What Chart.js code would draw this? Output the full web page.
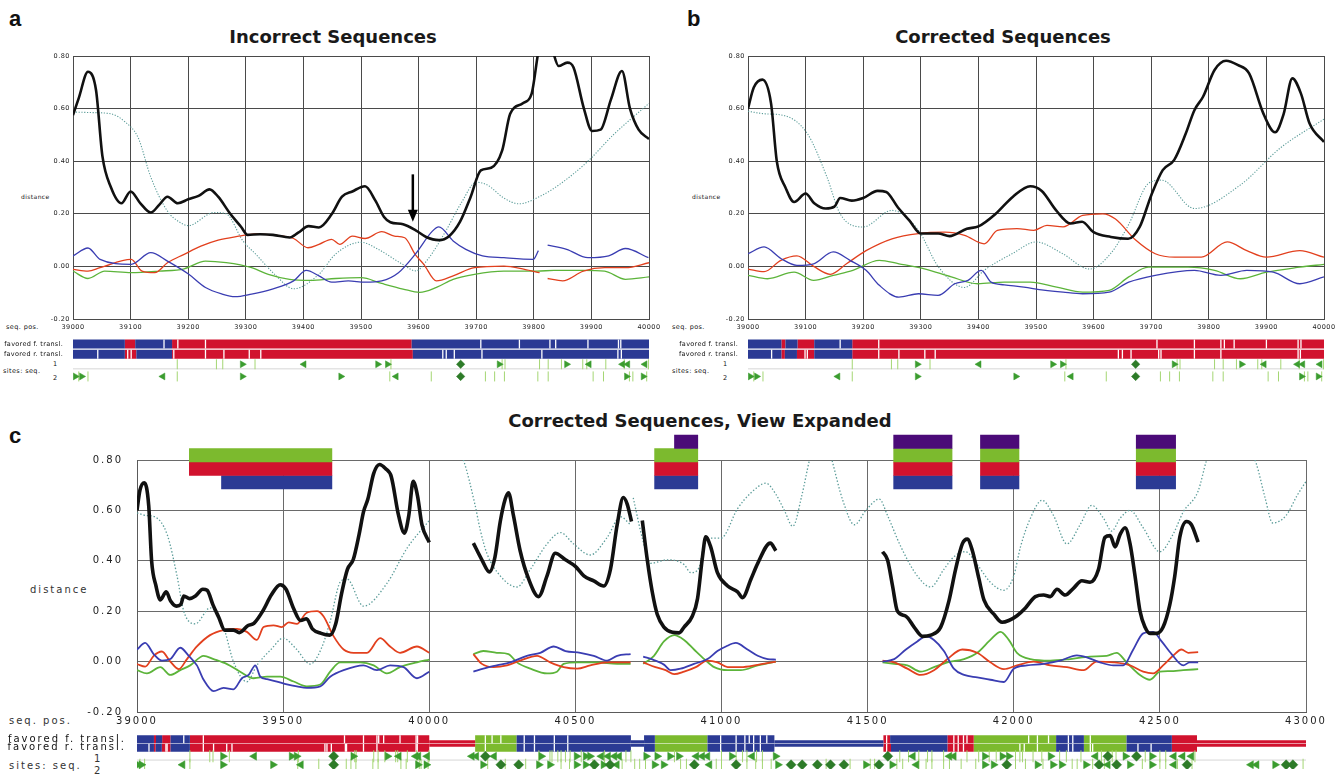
<!DOCTYPE html>
<html><head><meta charset="utf-8">
<script src="https://cdn.jsdelivr.net/npm/chart.js@4.4.1/dist/chart.umd.min.js"></script>
<style>
html,body{margin:0;padding:0;background:#fff;}
body{width:1339px;height:778px;position:relative;overflow:hidden;font-family:"DejaVu Sans",sans-serif;}
canvas{position:absolute;display:block;}
.tx{position:absolute;white-space:nowrap;line-height:1;color:#222;font-family:"DejaVu Sans",sans-serif;}
.let{font-family:"Liberation Sans",Arial,sans-serif;font-weight:bold;font-size:22px;color:#111;}
.ttl{font-weight:bold;font-size:18px;color:#1a1a1a;text-align:center;width:500px;}
.s6{font-size:6px;letter-spacing:0.4px;color:#111;}
.s7{font-size:6.5px;letter-spacing:0.4px;color:#111;}
.s10{font-size:10px;letter-spacing:2px;color:#333;}
</style></head><body>

<div class="tx let" style="left:9px;top:8px">a</div>
<div class="tx let" style="left:687px;top:8px">b</div>
<div class="tx let" style="left:9px;top:425px">c</div>
<div class="tx ttl" style="left:83px;top:28px">Incorrect Sequences</div>
<div class="tx ttl" style="left:753px;top:28px">Corrected Sequences</div>
<div class="tx ttl" style="left:450px;top:412px">Corrected Sequences, View Expanded</div>

<div class="tx s6" style="left:21px;top:194px">distance</div>
<div class="tx s6" style="left:692px;top:194px">distance</div>
<div class="tx s10" style="left:30px;top:585px">distance</div>

<div class="tx s7" style="left:6px;top:324px">seq. pos.</div>
<div class="tx s7" style="left:672px;top:324px">seq. pos.</div>
<div class="tx s10" style="left:9px;top:716px">seq. pos.</div>

<div class="tx s7" style="left:3px;top:368px">sites: seq.</div>
<div class="tx s7" style="left:53px;top:361px">1</div>
<div class="tx s7" style="left:53px;top:375px">2</div>
<div class="tx s7" style="left:672px;top:368px">sites: seq.</div>
<div class="tx s7" style="left:723px;top:361px">1</div>
<div class="tx s7" style="left:723px;top:375px">2</div>
<div class="tx s10" style="left:9px;top:761px">sites: seq.</div>
<div class="tx s10" style="left:94px;top:754px">1</div>
<div class="tx s10" style="left:94px;top:766px">2</div>

<canvas id="mainA" width="670" height="300" style="left:0;top:45px"></canvas>
<canvas id="mainB" width="669" height="300" style="left:670px;top:45px"></canvas>
<canvas id="trackA" width="670" height="55" style="left:0;top:333px"></canvas>
<canvas id="trackB" width="669" height="55" style="left:670px;top:333px"></canvas>
<canvas id="mainC" width="1339" height="295" style="left:0;top:440px"></canvas>
<canvas id="blocksC" width="1339" height="62" style="left:0;top:430px"></canvas>
<canvas id="trackC" width="1339" height="52" style="left:0;top:726px"></canvas>

<script>
// ---------------- DATA ----------------
// axis ranges / tick labels
const distanceTicks = [-0.2, 0.0, 0.2, 0.4, 0.6, 0.8];
const rangeAB = [39000, 40000, 100];
const rangeC = [39000, 43000, 500];
const trackLabels = ['favored f. transl.', 'favored r. transl.'];

// panel a : incorrect sequences  [seq. pos., distance]
const aBlack = [[39000,0.575],[39010,0.64],[39026,0.74],[39040,0.67],[39051,0.42],[39066,0.30],[39084,0.24],[39100,0.285],[39117,0.24],[39135,0.205],[39150,0.235],[39164,0.265],[39182,0.24],[39200,0.255],[39218,0.268],[39237,0.293],[39252,0.265],[39273,0.20],[39292,0.15],[39303,0.12],[39325,0.122],[39347,0.12],[39376,0.11],[39391,0.128],[39409,0.153],[39427,0.148],[39449,0.198],[39467,0.265],[39485,0.285],[39507,0.305],[39525,0.25],[39540,0.188],[39551,0.168],[39573,0.16],[39595,0.137],[39613,0.112],[39635,0.10],[39653,0.115],[39672,0.17],[39690,0.262],[39708,0.365],[39726,0.375],[39745,0.44],[39759,0.58],[39781,0.62],[39796,0.655],[39812,0.84],[39828,0.84],[39843,0.762],[39858,0.775],[39869,0.756],[39887,0.60],[39901,0.515],[39916,0.52],[39934,0.635],[39953,0.743],[39967,0.60],[39982,0.52],[40000,0.484]];
const aTeal = [[39000,0.587],[39030,0.585],[39066,0.58],[39090,0.55],[39113,0.49],[39135,0.34],[39164,0.21],[39186,0.167],[39200,0.155],[39245,0.205],[39266,0.2],[39295,0.097],[39317,0.047],[39350,-0.03],[39383,-0.085],[39427,-0.03],[39456,0.047],[39500,0.092],[39529,0.066],[39573,0.007],[39595,-0.017],[39617,0.03],[39646,0.13],[39675,0.245],[39700,0.32],[39719,0.31],[39748,0.26],[39774,0.238],[39814,0.27],[39850,0.32],[39894,0.40],[39938,0.50],[40000,0.62]];
const aBlue = [[39000,0.04],[39026,0.07],[39047,0.027],[39101,0.008],[39135,0.052],[39164,0.02],[39201,-0.03],[39230,-0.08],[39259,-0.105],[39281,-0.115],[39310,-0.105],[39346,-0.086],[39383,-0.055],[39405,-0.015],[39427,-0.036],[39449,-0.06],[39478,-0.055],[39507,-0.06],[39536,-0.055],[39565,-0.024],[39594,0.046],[39624,0.134],[39635,0.15],[39660,0.097],[39682,0.065],[39711,0.04],[39748,0.033],[39799,0.027],[39808,0.06],null,[39824,0.081],[39857,0.065],[39894,0.033],[39930,0.04],[39959,0.068],[39999,0.033]];
const aRed = [[39000,-0.011],[39026,-0.018],[39047,-0.005],[39101,0.027],[39120,-0.018],[39142,-0.024],[39164,0.014],[39193,0.046],[39222,0.077],[39252,0.10],[39288,0.115],[39317,0.124],[39354,0.118],[39383,0.106],[39408,0.071],[39427,0.084],[39449,0.103],[39463,0.084],[39485,0.115],[39507,0.106],[39536,0.132],[39558,0.115],[39576,0.109],[39594,0.046],[39609,0.008],[39631,-0.055],[39660,-0.036],[39697,-0.005],[39748,0.001],[39784,-0.011],[39810,-0.024],null,[39824,-0.046],[39850,-0.055],[39886,-0.018],[39923,-0.005],[39959,-0.005],[40000,0.014]];
const aGreen = [[39000,-0.018],[39026,-0.046],[39055,-0.018],[39101,-0.024],[39150,-0.018],[39193,-0.009],[39230,0.02],[39266,0.014],[39310,-0.005],[39339,-0.03],[39376,-0.049],[39412,-0.053],[39456,-0.046],[39500,-0.043],[39536,-0.065],[39573,-0.086],[39602,-0.099],[39631,-0.08],[39660,-0.049],[39697,-0.03],[39748,-0.018],[39806,-0.018],[39835,-0.015],[39886,-0.015],[39923,-0.018],[39959,-0.049],[40000,-0.04]];
const aArrow = [39590, 0.35, 0.17]; // position, from, to

// corrected sequences: segment 1 (39000-40000), shared by panel b and c
const blackS1 = [[39000,0.60],[39010,0.68],[39025,0.71],[39040,0.62],[39050,0.40],[39065,0.30],[39080,0.245],[39100,0.277],[39115,0.24],[39135,0.22],[39150,0.227],[39160,0.26],[39180,0.25],[39200,0.26],[39225,0.287],[39240,0.283],[39260,0.225],[39280,0.175],[39300,0.125],[39330,0.125],[39350,0.115],[39380,0.143],[39400,0.152],[39430,0.20],[39460,0.265],[39490,0.305],[39510,0.287],[39535,0.213],[39560,0.163],[39580,0.17],[39600,0.13],[39630,0.112],[39660,0.105],[39680,0.15],[39700,0.27],[39720,0.366],[39740,0.405],[39760,0.505],[39775,0.594],[39790,0.645],[39810,0.747],[39830,0.782],[39850,0.766],[39870,0.734],[39895,0.58],[39915,0.51],[39930,0.58],[39945,0.715],[39960,0.657],[39975,0.543],[40000,0.473]];
const tealS1 = [[39000,0.59],[39030,0.58],[39060,0.575],[39103,0.505],[39137,0.34],[39160,0.20],[39200,0.15],[39250,0.213],[39296,0.137],[39330,0.0],[39376,-0.08],[39410,-0.015],[39460,0.05],[39500,0.093],[39545,0.05],[39593,-0.01],[39630,0.05],[39661,0.16],[39695,0.315],[39718,0.328],[39775,0.22],[39855,0.31],[39924,0.45],[40000,0.56]];
const redS1 = [[39000,-0.01],[39028,-0.02],[39057,0.023],[39085,0.04],[39114,0.0],[39143,-0.03],[39171,0.01],[39205,0.06],[39250,0.105],[39296,0.125],[39342,0.13],[39376,0.118],[39410,0.086],[39433,0.137],[39467,0.144],[39496,0.137],[39519,0.156],[39547,0.15],[39581,0.194],[39616,0.20],[39638,0.18],[39673,0.10],[39707,0.048],[39741,0.035],[39787,0.035],[39832,0.093],[39866,0.06],[39900,0.035],[39958,0.06],[40000,0.035]];
const blueS1 = [[39000,0.048],[39028,0.074],[39057,0.03],[39085,0.004],[39114,0.01],[39148,0.055],[39177,0.023],[39205,-0.015],[39228,-0.072],[39262,-0.117],[39296,-0.104],[39330,-0.11],[39359,-0.066],[39382,-0.053],[39405,-0.015],[39422,-0.06],[39445,-0.07],[39479,-0.079],[39513,-0.09],[39547,-0.098],[39581,-0.104],[39627,-0.098],[39661,-0.06],[39707,-0.034],[39775,-0.015],[39821,-0.034],[39866,-0.015],[39912,-0.022],[39958,-0.066],[40000,-0.04]];
const greenS1 = [[39000,-0.034],[39034,-0.047],[39080,-0.022],[39114,-0.053],[39148,-0.034],[39182,-0.015],[39228,0.023],[39262,0.01],[39308,-0.01],[39353,-0.04],[39399,-0.066],[39445,-0.06],[39490,-0.06],[39536,-0.079],[39581,-0.098],[39627,-0.091],[39661,-0.04],[39695,-0.003],[39764,-0.003],[39810,-0.015],[39855,-0.047],[39900,-0.022],[39958,-0.003],[40000,0.008]];

// segment 2 (40150-41190)
const blackS2 = [[40151,0.47],[40180,0.404],[40206,0.356],[40225,0.416],[40243,0.556],[40260,0.645],[40271,0.67],[40288,0.58],[40311,0.44],[40340,0.328],[40374,0.258],[40403,0.34],[40431,0.43],[40466,0.404],[40500,0.378],[40529,0.34],[40563,0.32],[40597,0.30],[40620,0.366],[40643,0.543],[40664,0.651],[40677,0.626],[40692,0.556],null,[40729,0.56],[40746,0.404],[40763,0.277],[40780,0.188],[40803,0.137],[40832,0.116],[40855,0.114],[40872,0.137],[40900,0.18],[40918,0.25],[40935,0.416],[40946,0.495],[40963,0.455],[40986,0.353],[41021,0.30],[41055,0.277],[41072,0.254],[41101,0.328],[41124,0.39],[41167,0.47],[41186,0.44]];
const tealS2 = [[40090,0.86],[40117,0.80],[40157,0.62],[40175,0.52],[40197,0.43],[40243,0.34],[40300,0.296],[40346,0.366],[40403,0.467],[40449,0.512],[40494,0.467],[40551,0.423],[40609,0.493],[40654,0.575],[40689,0.543],null,[40698,0.65],[40729,0.49],[40757,0.39],[40815,0.404],[40872,0.385],[40895,0.353],[40923,0.372],[40946,0.49],[40998,0.49],[41055,0.607],[41101,0.67],[41152,0.708],[41186,0.664],[41215,0.60],[41244,0.537],[41275,0.66],[41301,0.80],[41320,0.88],[41360,0.88],[41378,0.80],[41415,0.64],[41455,0.543]];
const blueS2 = [[40151,-0.04],[40185,-0.028],[40231,-0.015],[40277,-0.003],[40334,0.023],[40380,0.035],[40426,0.06],[40466,0.042],[40517,0.035],[40563,0.023],[40609,0.004],[40643,0.023],[40689,0.03],null,[40732,0.02],[40769,0.006],[40803,-0.012],[40826,-0.034],[40860,-0.028],[40906,-0.009],[40952,0.01],[40986,0.042],[41015,0.06],[41049,0.074],[41089,0.048],[41124,0.023],[41158,0.01],[41186,0.008]];
const redS2 = [[40151,0.03],[40180,-0.009],[40220,-0.022],[40266,-0.015],[40311,0.004],[40369,0.023],[40414,-0.003],[40460,-0.022],[40506,-0.028],[40551,-0.015],[40609,-0.003],[40689,-0.003],null,[40732,-0.003],[40774,-0.022],[40809,-0.034],[40838,-0.05],[40872,-0.04],[40912,-0.022],[40952,0.004],[40986,-0.003],[41021,-0.022],[41066,-0.022],[41124,-0.013],[41186,0.0]];
const greenS2 = [[40151,0.03],[40185,0.042],[40231,0.035],[40271,0.03],[40300,-0.003],[40346,-0.028],[40403,-0.047],[40437,-0.04],[40460,-0.009],[40506,-0.003],[40574,-0.003],[40643,-0.009],[40689,-0.009],null,[40732,-0.009],[40769,0.023],[40803,0.08],[40838,0.105],[40872,0.086],[40906,0.048],[40941,0.01],[40975,-0.022],[41021,-0.034],[41066,-0.034],[41124,-0.015],[41186,0.0]];

// segment 3 (41550-42630)
const blackS3 = [[41551,0.436],[41568,0.404],[41585,0.302],[41602,0.20],[41631,0.18],[41659,0.137],[41688,0.10],[41716,0.105],[41750,0.137],[41778,0.24],[41801,0.366],[41824,0.467],[41841,0.486],[41858,0.442],[41881,0.328],[41898,0.245],[41932,0.188],[41960,0.156],[41983,0.163],[42011,0.182],[42040,0.213],[42074,0.258],[42102,0.264],[42125,0.258],[42148,0.287],[42176,0.264],[42205,0.292],[42233,0.321],[42261,0.315],[42290,0.366],[42312,0.493],[42330,0.50],[42347,0.455],[42364,0.505],[42381,0.531],[42398,0.467],[42415,0.34],[42432,0.20],[42449,0.137],[42466,0.112],[42489,0.112],[42511,0.137],[42534,0.226],[42551,0.34],[42568,0.493],[42591,0.556],[42608,0.543],[42631,0.474]];
const tealS3 = [[41494,0.60],[41540,0.645],[41568,0.58],[41614,0.455],[41670,0.34],[41716,0.296],[41761,0.366],[41795,0.416],[41835,0.436],[41875,0.385],[41920,0.315],[41966,0.283],[42000,0.34],[42023,0.455],[42057,0.569],[42097,0.64],[42136,0.58],[42182,0.467],[42227,0.543],[42267,0.62],[42307,0.569],[42335,0.518],[42364,0.569],[42398,0.60],[42443,0.531],[42500,0.436],[42545,0.505],[42580,0.594],[42631,0.677],[42660,0.80],[42680,0.86],null,[42800,0.86],[42830,0.785],[42860,0.65],[42886,0.55],[42932,0.58],[42970,0.66],[43000,0.715]];
const blueS3 = [[41551,0.0],[41591,0.01],[41631,0.048],[41670,0.08],[41699,0.10],[41727,0.086],[41761,0.042],[41795,-0.028],[41830,-0.053],[41875,-0.063],[41920,-0.072],[41966,-0.081],[42000,-0.028],[42045,-0.015],[42102,-0.009],[42159,0.004],[42216,0.025],[42250,0.017],[42295,-0.003],[42341,-0.015],[42375,-0.015],[42409,0.048],[42443,0.112],[42477,0.118],[42506,0.08],[42540,0.03],[42580,-0.015],[42602,-0.003],[42631,-0.003]];
const redS3 = [[41551,0.004],[41591,-0.003],[41636,-0.028],[41682,-0.053],[41727,-0.034],[41773,0.01],[41824,0.048],[41875,0.035],[41920,-0.003],[41966,-0.03],[42011,-0.015],[42068,0.0],[42125,-0.015],[42182,-0.022],[42239,-0.034],[42284,0.0],[42341,-0.003],[42398,-0.015],[42443,-0.04],[42477,-0.047],[42511,-0.015],[42545,0.023],[42574,0.048],[42597,0.035],[42631,0.038]];
const greenS3 = [[41551,-0.003],[41591,-0.009],[41636,-0.015],[41682,-0.04],[41727,-0.022],[41773,-0.003],[41830,0.01],[41875,0.035],[41920,0.086],[41955,0.118],[41983,0.086],[42011,0.035],[42057,0.01],[42125,0.004],[42193,0.01],[42261,0.02],[42318,0.023],[42352,0.035],[42386,-0.003],[42432,-0.053],[42466,-0.072],[42500,-0.04],[42534,-0.038],[42580,-0.034],[42631,-0.03]];

// favored translation tracks [start, end, colour code]  (lower case = thin, no aligned sequence)
const aFwd = [[39000,39090,'B'],[39090,39108,'R'],[39108,39172,'B'],[39172,39588,'R'],[39588,40000,'B']];
const aRev = [[39000,39090,'B'],[39090,39110,'R'],[39110,39172,'B'],[39172,39590,'R'],[39590,40000,'B']];
const aFwdGaps = [39158,39182,39230,39708,39775,39828,39838,39894,39947,39951];
const aRevGaps = [39043,39095,39101,39175,39230,39262,39306,39326,39642,39648,39662,39710,39814,39946,39952];
const bFwd = [[39000,39058,'B'],[39058,39065,'R'],[39065,39086,'B'],[39086,39115,'R'],[39115,39181,'B'],[39181,40000,'R']];
const bRev = [[39000,39058,'B'],[39058,39064,'R'],[39064,39085,'B'],[39085,39115,'R'],[39115,39181,'B'],[39181,40000,'R']];
const bFwdGaps = [39160,39227,39710,39775,39821,39827,39844,39900,39955,39960];
const bRevGaps = [39041,39099,39103,39227,39262,39307,39325,39643,39650,39665,39713,39717,39775,39821,39955,39959];
const cFwd = [[39000,39058,'B'],[39058,39065,'R'],[39065,39086,'B'],[39086,39115,'R'],[39115,39181,'B'],[39181,40000,'R'],[40000,40157,'r'],[40157,40299,'G'],[40299,40690,'B'],[40690,40735,'b'],[40735,40772,'B'],[40772,40952,'G'],[40952,41181,'B'],[41181,41554,'b'],[41554,41577,'R'],[41577,41773,'B'],[41773,41863,'R'],[41863,42145,'G'],[42145,42240,'B'],[42240,42386,'G'],[42386,42541,'B'],[42541,42627,'R'],[42627,43000,'r']];
const cRev = [[39000,39058,'B'],[39058,39064,'R'],[39064,39085,'B'],[39085,39115,'R'],[39115,39181,'B'],[39181,40000,'R'],[40000,40157,'r'],[40157,40299,'G'],[40299,40690,'B'],[40690,40735,'b'],[40735,40772,'B'],[40772,40952,'G'],[40952,41181,'B'],[41181,41554,'b'],[41554,41580,'R'],[41580,41773,'B'],[41773,41863,'R'],[41863,42145,'G'],[42145,42240,'B'],[42240,42386,'G'],[42386,42541,'B'],[42541,42627,'R'],[42627,43000,'r']];
const cFwdGaps = [39160,39227,39710,39775,39821,39827,39844,39900,39955,39960,40192,40215,40245,40325,40360,40428,40474,40997,41050,41080,41095,41110,41133,41155,41565,41795,41810,41828,41840,42051,42081,42119,42187,42202,42262];
const cRevGaps = [39041,39099,39103,39227,39262,39307,39325,39643,39650,39665,39713,39717,39775,39821,39955,39959,40192,40325,40360,40428,40474,40997,41050,41080,41110,41133,41565,41795,41810,41828,42021,42036,42081,42187,42202,42262,42270,42425,42470];

// sites  [position, kind]   '|' site tick, '>' / '<' oriented site, 'd' both
const sitesAB1 = [[39181,'|'],[39249,'|'],[39260,'|'],[39294,'>'],[39316,'|'],[39401,'<'],[39529,'>'],[39546,'>'],[39552,'|'],[39673,'d'],[39740,'>'],[39745,'|'],[39750,'|'],[39810,'|'],[39825,'|'],[39848,'|'],[39857,'>'],[39885,'|'],[39892,'|'],[39896,'<'],[39925,'|'],[39954,'<'],[39957,'|'],[39963,'<'],[39993,'<'],[39999,'|']];
const sitesAB2 = [[39004,'>'],[39010,'|'],[39015,'>'],[39026,'|'],[39156,'<'],[39181,'|'],[39294,'>'],[39465,'>'],[39550,'|'],[39561,'<'],[39622,'|'],[39673,'d'],[39716,'|'],[39732,'|'],[39749,'|'],[39807,'|'],[39825,'|'],[39903,'|'],[39921,'|'],[39961,'>'],[39966,'|'],[39972,'|'],[39990,'>'],[39996,'|']];
const sitesC1 = [[39181,'|'],[39249,'|'],[39260,'|'],[39294,'>'],[39316,'|'],[39401,'<'],[39529,'>'],[39546,'>'],[39552,'|'],[39673,'d'],[39740,'>'],[39745,'|'],[39750,'|'],[39810,'|'],[39825,'|'],[39848,'|'],[39857,'>'],[39885,'|'],[39892,'|'],[39896,'<'],[39925,'|'],[39954,'<'],[39957,'|'],[39963,'<'],[39993,'<'],[39999,'|'],
 [40146,'<'],[40161,'<'],[40192,'d'],[40222,'<'],[40375,'|'],[40383,'>'],[40413,'|'],[40420,'|'],[40440,'|'],[40451,'|'],[40466,'|'],[40482,'|'],[40504,'>'],[40520,'|'],[40535,'>'],[40550,'>'],[40589,'<'],[40600,'|'],[40612,'<'],[40634,'<'],[40650,'<'],[40673,'|'],[40690,'|'],[40742,'>'],[40780,'>'],[40824,'>'],[40839,'|'],[40854,'>'],[40914,'<'],[40934,'<'],[40952,'<'],[41000,'|'],[41035,'>'],[41050,'|'],[41072,'|'],[41087,'|'],[41105,'<'],[41120,'|'],[41140,'|'],[41185,'>'],
 [41569,'d'],[41610,'|'],[41640,'|'],[41655,'<'],[41675,'|'],[41705,'|'],[41720,'|'],[41760,'|'],[41780,'<'],[41795,'<'],[41840,'|'],[41880,'|'],[41901,'>'],[41916,'|'],[41940,'|'],[41961,'>'],[41983,'>'],[42006,'|'],[42021,'|'],[42030,'|'],[42066,'|'],[42096,'|'],[42126,'>'],[42157,'|'],[42180,'|'],[42230,'|'],[42280,'<'],[42300,'|'],[42322,'d'],[42337,'|'],[42350,'|'],[42382,'>'],[42420,'d'],[42450,'|'],[42473,'>'],[42500,'|'],[42520,'|'],[42548,'<'],[42578,'<'],[42608,'<'],[42620,'|']];
const sitesC2 = [[39004,'>'],[39010,'|'],[39015,'>'],[39026,'|'],[39156,'<'],[39181,'|'],[39294,'>'],[39465,'>'],[39550,'|'],[39561,'<'],[39622,'|'],[39673,'d'],[39716,'|'],[39732,'|'],[39749,'|'],[39807,'|'],[39825,'|'],[39903,'|'],[39921,'|'],[39961,'>'],[39966,'|'],[39972,'|'],[39990,'>'],[39996,'|'],
 [40184,'>'],[40200,'|'],[40245,'d'],[40260,'|'],[40306,'d'],[40330,'|'],[40375,'>'],[40413,'>'],[40451,'|'],[40480,'|'],[40504,'>'],[40535,'>'],[40560,'|'],[40565,'d'],[40596,'>'],[40619,'d'],[40642,'<'],[40660,'|'],[40703,'|'],[40720,'|'],[40740,'|'],[40771,'>'],[40802,'>'],[40860,'|'],[40880,'|'],[40907,'d'],[40959,'<'],[40982,'|'],[41000,'|'],[41050,'d'],[41087,'|'],[41117,'|'],[41140,'|'],[41170,'|'],[41193,'>'],[41238,'d'],[41276,'d'],[41328,'d'],[41358,'|'],[41373,'d'],[41419,'d'],[41440,'|'],[41494,'>'],[41509,'|'],[41524,'|'],[41539,'d'],
 [41584,'>'],[41600,'|'],[41620,'|'],[41667,'<'],[41675,'|'],[41700,'|'],[41720,'|'],[41760,'|'],[41780,'|'],[41820,'|'],[41870,'|'],[41901,'>'],[41931,'>'],[41976,'d'],[42006,'|'],[42040,'|'],[42081,'>'],[42100,'|'],[42134,'>'],[42164,'>'],[42200,'|'],[42217,'|'],[42247,'>'],[42270,'|'],[42292,'d'],[42310,'|'],[42322,'<'],[42352,'d'],[42397,'>'],[42440,'|'],[42473,'>'],[42500,'|'],[42520,'|'],[42548,'<'],[42560,'|'],[42593,'d'],[42610,'|'],[42812,'<'],[42831,'<'],[42894,'>'],[42932,'d'],[42955,'d'],[42990,'|']];

// coloured blocks above panel c  [start, end, rows]
const cBlocks = [[39178,39668,'GR'],[39288,39668,'B'],[40770,40920,'GRB'],[40838,40920,'P'],[41588,41790,'PGRB'],[41885,42019,'PGRB'],[42418,42555,'PGRB']];

// ---------------- STYLE ----------------
const COL = {black:'#111111', teal:'#5b9c99', blue:'#3a3db2', red:'#e2401e', green:'#5cb43a'};
const BAR = {B:'#2b3a94', R:'#d1122e', G:'#7cba2e', P:'#4b0b78'};
const SITE = {tick:'#a4d673', tri:'#3b9c2f', dia:'#2d7b28'};

Chart.defaults.font.family = '"DejaVu Sans", sans-serif';
Chart.defaults.animation = false;
Chart.defaults.events = [];
Chart.defaults.plugins.legend.display = false;
Chart.defaults.plugins.tooltip.enabled = false;

const toXY = arr => { const out = []; let px = null; for (const p of arr) { if (p === null) out.push({x: px, y: null}); else { out.push({x: p[0], y: p[1]}); px = p[0]; } } return out; };
const joinSegs = (...segs) => { const out = []; segs.forEach((s, i) => { if (i) out.push(null); out.push(...s); }); return out; };

const spacing = ls => ({id: 'ls', beforeDraw(c) { c.ctx.letterSpacing = ls; }});

function lineDs(arr, color, width, dash, order) {
  return {data: toXY(arr), borderColor: color, borderWidth: width, borderDash: dash || [], pointRadius: 0,
    cubicInterpolationMode: 'monotone', fill: false, spanGaps: false, order: order};
}

function mainChart(id, c) {
  return new Chart(document.getElementById(id), {
    type: 'line',
    data: {datasets: c.series},
    options: {
      responsive: false, devicePixelRatio: 1,
      layout: {padding: c.pad},
      scales: {
        x: {type: 'linear', min: c.range[0], max: c.range[1],
          grid: {color: c.grid, lineWidth: 1, drawTicks: false}, border: {color: c.border, width: 1},
          ticks: {stepSize: c.range[2], autoSkip: false, maxRotation: 0, padding: c.xpad, font: c.font, color: '#222', callback: v => String(v)},
          afterFit: s => { s.height = c.xh; }},
        y: {type: 'linear', min: distanceTicks[0], max: distanceTicks[distanceTicks.length - 1],
          grid: {color: c.grid, lineWidth: 1, drawTicks: false}, border: {color: c.border, width: 1},
          afterBuildTicks: s => { s.ticks = distanceTicks.map(v => ({value: v})); },
          ticks: {padding: c.ypad, font: c.font, color: '#222', callback: v => (Math.abs(v) < 1e-9 ? 0 : v).toFixed(2)},
          afterFit: s => { s.width = c.yw; }}
      }
    },
    plugins: c.plugins || []
  });
}

function trackChart(id, c) {
  const ds = [];
  const R = c.rows;
  const segLine = (list, code, y) => { const out = []; list.forEach(([a, b, k]) => { if (k === code) out.push({x: a, y}, {x: b, y}, {x: b, y: null}); }); return out; };
  ['B', 'R', 'G'].forEach(code => {
    [[c.fwd, R.f, R.f + c.st.thinOff], [c.rev, R.r, R.r - c.st.thinOff]].forEach(([list, y, yt]) => {
      const full = segLine(list, code, y), thin = segLine(list, code.toLowerCase(), yt);
      if (full.length) ds.push({data: full, showLine: true, borderColor: BAR[code], borderWidth: c.st.bar, pointRadius: 0, spanGaps: false, borderCapStyle: 'butt', order: 6});
      if (thin.length) ds.push({data: thin, showLine: true, borderColor: BAR[code], borderWidth: c.st.thin, pointRadius: 0, spanGaps: false, borderCapStyle: 'butt', order: 6});
    });
  });
  ds.push({data: [{x: c.range[0], y: R.base}, {x: c.range[1], y: R.base}], showLine: true, borderColor: '#d6d6d6', borderWidth: 1, pointRadius: 0, order: 5});
  ds.push({data: c.fwdGaps.map(x => ({x, y: R.f})).concat(c.revGaps.map(x => ({x, y: R.r}))),
    pointStyle: 'line', pointRotation: 90, pointRadius: c.st.bar / 2, pointBorderColor: '#fff', borderColor: '#fff', pointBorderWidth: 1.3, order: 4});
  const kinds = {
    '|': {pointStyle: 'line', rot: 90, r: c.st.tick, col: SITE.tick, bw: 1, order: 3},
    '>': {pointStyle: 'triangle', rot: 90, r: c.st.tri, col: SITE.tri, bw: 0.5, order: 2},
    '<': {pointStyle: 'triangle', rot: -90, r: c.st.tri, col: SITE.tri, bw: 0.5, order: 2},
    'd': {pointStyle: 'rectRot', rot: 0, r: c.st.dia, col: SITE.dia, bw: 0.5, order: 1}
  };
  Object.entries(kinds).forEach(([k, o]) => {
    const pts = c.s1.filter(s => s[1] === k).map(s => ({x: s[0], y: R.s1})).concat(c.s2.filter(s => s[1] === k).map(s => ({x: s[0], y: R.s2})));
    ds.push({data: pts, pointStyle: o.pointStyle, pointRotation: o.rot, pointRadius: o.r, pointBackgroundColor: o.col, pointBorderColor: o.col, backgroundColor: o.col, borderColor: o.col, pointBorderWidth: o.bw, order: o.order});
  });
  return new Chart(document.getElementById(id), {
    type: 'scatter',
    data: {datasets: ds},
    options: {
      responsive: false, devicePixelRatio: 1,
      layout: {padding: c.pad},
      scales: {
        x: {type: 'linear', min: c.range[0], max: c.range[1], display: false},
        y: {type: 'linear', min: R.min, max: R.max, reverse: true,
          grid: {display: false}, border: {display: false},
          afterBuildTicks: s => { s.ticks = [{value: R.f}, {value: R.r}]; },
          ticks: {padding: c.tpad, font: c.font, color: '#111', callback: v => v === R.f ? trackLabels[0] : trackLabels[1]},
          afterFit: s => { s.width = c.yw; }}
      }
    },
    plugins: c.plugins || []
  });
}

const arrowPlugin = {id: 'arrow', afterDatasetsDraw(chart) {
  const {ctx, scales: {x, y}} = chart;
  const px = x.getPixelForValue(aArrow[0]), p0 = y.getPixelForValue(aArrow[1]), p1 = y.getPixelForValue(aArrow[2]);
  ctx.save(); ctx.strokeStyle = '#000'; ctx.fillStyle = '#000'; ctx.lineWidth = 2.5;
  ctx.beginPath(); ctx.moveTo(px, p0); ctx.lineTo(px, p1 - 10); ctx.stroke();
  ctx.beginPath(); ctx.moveTo(px - 5, p1 - 12); ctx.lineTo(px + 5, p1 - 12); ctx.lineTo(px, p1); ctx.closePath(); ctx.fill();
  ctx.restore();
}};

const smallFont = {size: 6.5};
// panel a
mainChart('mainA', {range: rangeAB, pad: {left: 4, top: 11, right: 21, bottom: 12}, yw: 69, xh: 14, xpad: 4, ypad: 3,
  grid: '#4a4a4a', border: '#4a4a4a', font: smallFont, plugins: [arrowPlugin, spacing('0.5px')],
  series: [lineDs(aBlack, COL.black, 2.6, [], 0), lineDs(aBlue, COL.blue, 1.3, [], 1), lineDs(aRed, COL.red, 1.3, [], 2), lineDs(aGreen, COL.green, 1.3, [], 3), lineDs(aTeal, COL.teal, 1.1, [1.2, 1.6], 4)]});
// panel b
mainChart('mainB', {range: rangeAB, pad: {left: 4, top: 11, right: 15, bottom: 12}, yw: 74, xh: 14, xpad: 4, ypad: 3,
  grid: '#4a4a4a', border: '#4a4a4a', font: smallFont, plugins: [spacing('0.5px')],
  series: [lineDs(blackS1, COL.black, 2.6, [], 0), lineDs(blueS1, COL.blue, 1.3, [], 1), lineDs(redS1, COL.red, 1.3, [], 2), lineDs(greenS1, COL.green, 1.3, [], 3), lineDs(tealS1, COL.teal, 1.1, [1.2, 1.6], 4)]});
// panel c
mainChart('mainC', {range: rangeC, pad: {left: 4, top: 9, right: 33, bottom: 5}, yw: 133, xh: 18, xpad: 3, ypad: 14,
  grid: '#6a6a6a', border: '#5a5a5a', font: {size: 10}, plugins: [spacing('2px')],
  series: [lineDs(joinSegs(blackS1, blackS2, blackS3), COL.black, 3.6, [], 0),
    lineDs(joinSegs(blueS1, blueS2, blueS3), COL.blue, 1.8, [], 1),
    lineDs(joinSegs(redS1, redS2, redS3), COL.red, 1.8, [], 2),
    lineDs(joinSegs(greenS1, greenS2, greenS3), COL.green, 1.8, [], 3),
    lineDs(joinSegs(tealS1, tealS2.concat(tealS3)), COL.teal, 1.3, [1.4, 2], 4)]});

const rowsAB = {f: 0, r: 1, s1: 2, s2: 3.2, base: 2.45, min: -0.5, max: 3.75};
const rowsC = {f: 0, r: 1, s1: 2, s2: 3, base: 2.45, min: -0.5, max: 3.5};
trackChart('trackA', {range: rangeAB, pad: {left: 2, top: 2, right: 21, bottom: 2}, yw: 71, tpad: 2, rows: rowsAB, font: {size: 6.5},
  fwd: aFwd, rev: aRev, fwdGaps: aFwdGaps, revGaps: aRevGaps, s1: sitesAB1, s2: sitesAB2,
  st: {bar: 9, thin: 3, thinOff: 0.3, tick: 5, tri: 4, dia: 4.2}, plugins: [spacing('0.3px')]});
trackChart('trackB', {range: rangeAB, pad: {left: 2, top: 2, right: 15, bottom: 2}, yw: 76, tpad: 2, rows: rowsAB, font: {size: 6.5},
  fwd: bFwd, rev: bRev, fwdGaps: bFwdGaps, revGaps: bRevGaps, s1: sitesAB1, s2: sitesAB2,
  st: {bar: 9, thin: 3, thinOff: 0.3, tick: 5, tri: 4, dia: 4.2}, plugins: [spacing('0.3px')]});
trackChart('trackC', {range: rangeC, pad: {left: 4, top: 2, right: 33, bottom: 0}, yw: 133, tpad: 3, rows: rowsC, font: {size: 10},
  fwd: cFwd, rev: cRev, fwdGaps: cFwdGaps, revGaps: cRevGaps, s1: sitesC1, s2: sitesC2,
  st: {bar: 8, thin: 3, thinOff: 0.3, tick: 6, tri: 4.6, dia: 5}, plugins: [spacing('2px')]});

// blocks above panel c
(function () {
  const rowOf = {P: 0, G: 1, R: 2, B: 3};
  const ds = ['P', 'G', 'R', 'B'].map(code => {
    const pts = [];
    cBlocks.forEach(([a, b, rows]) => { if (rows.includes(code)) pts.push({x: a, y: rowOf[code]}, {x: b, y: rowOf[code]}, {x: b, y: null}); });
    return {data: pts, showLine: true, borderColor: BAR[code], borderWidth: 13.8, pointRadius: 0, spanGaps: false, borderCapStyle: 'butt', clip: false};
  });
  new Chart(document.getElementById('blocksC'), {
    type: 'scatter', data: {datasets: ds},
    options: {responsive: false, devicePixelRatio: 1, layout: {padding: {left: 137, right: 33, top: 5, bottom: 3}},
      scales: {x: {type: 'linear', min: rangeC[0], max: rangeC[1], display: false}, y: {type: 'linear', min: -0.5, max: 3.5, reverse: true, display: false}}}
  });
})();
</script>
</body></html>
